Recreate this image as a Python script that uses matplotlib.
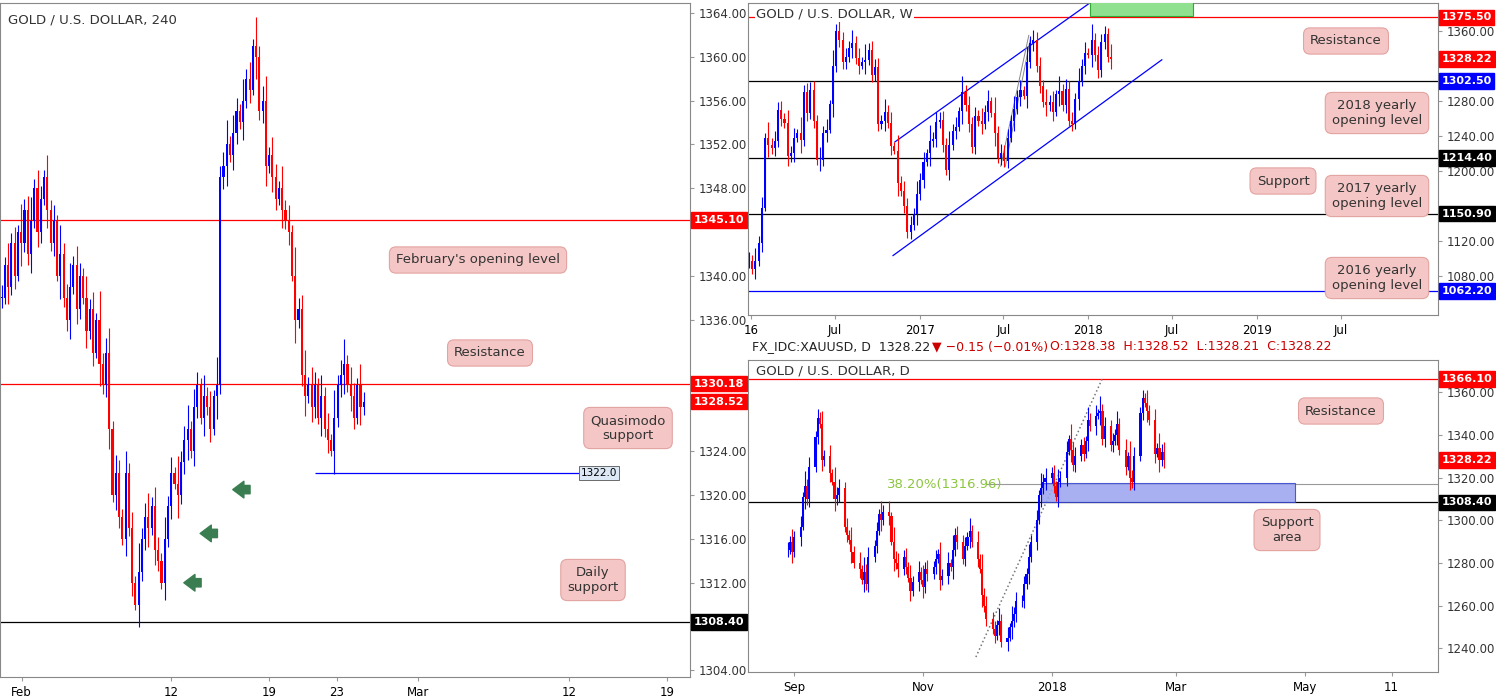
import matplotlib
matplotlib.use("Agg")
import matplotlib.pyplot as plt
import matplotlib.dates as mdates
import numpy as np
import pandas as pd
from matplotlib.patches import Rectangle

# ---------------- data ----------------
h4_close = [1338,1341,1339,1343,1340,1344,1343,1346,1342,1345,1348,1344,1347,1349,1346,1343,1345,1340,1342,1338,
            1336,1339,1341,1337,1340,1338,1335,1337,1333,1336,1332,1330,1333,1326,1320,1322,1318,1316,1322,1317,
            1312,1310,1313,1316,1318,1317,1319,1315,1314,1312,1316,1319,1322,1321,1320,1323,1325,1326,1324,1328,
            1330,1327,1329,1328,1326,1329,1330,1349,1350,1352,1351,1353,1355,1354,1356,1358,1357,1361,1360,1355,
            1356,1350,1351,1349,1347,1348,1346,1345,1344,1340,1336,1337,1331,1329,1330,1328,1330,1327,1329,1326,
            1325,1324,1327,1330,1331,1332,1330,1329,1327,1330,1328,1328.5]
h4_wick = [1.2,0.7,2.0,0.9,1.5,0.6,2.6,1.0,1.3,2.2,0.8,1.7]
h4_ticks = [6.1, 52, 82, 102.8, 127.5, 174, 204]
h4_ticklabels = ["Feb", "12", "19", "23", "Mar", "12", "19"]

w_close = [1097,1088,1097,1117,1158,1238,1230,1226,1234,1270,1259,1255,1217,1220,1237,1243,1235,1290,1266,1293,
           1257,1212,1212,1243,1247,1276,1320,1360,1350,1324,1330,1341,1346,1329,1320,1325,1327,1338,1310,1319,
           1253,1257,1267,1255,1228,1223,1186,1177,1160,1130,1138,1150,1173,1190,1210,1220,1234,1236,1256,1258,
           1230,1201,1230,1246,1250,1268,1290,1275,1253,1227,1263,1257,1254,1267,1280,1266,1243,1215,1220,1211,
           1238,1257,1271,1284,1292,1286,1324,1346,1350,1320,1297,1279,1275,1279,1267,1288,1291,1275,1294,1257,
           1253,1282,1303,1320,1335,1333,1350,1332,1315,1347,1356,1330,1328]
w_wick = [10,7,15,8,12,5,18,8,11,9]

d_close = [1286,1290,1285,1292,1297,1311,1316,1310,1325,1339,1348,1345,1328,1330,1322,1318,1310,1312,1315,1297,
           1293,1291,1285,1280,1277,1272,1276,1270,1283,1288,1295,1303,1300,1304,1302,1290,1282,1280,1277,1283,
           1278,1273,1267,1271,1276,1272,1269,1277,1275,1278,1282,1284,1272,1274,1280,1278,1286,1293,1290,1282,
           1288,1292,1295,1290,1282,1277,1265,1260,1254,1249,1246,1251,1253,1243,1245,1250,1253,1256,1262,1262,
           1270,1275,1283,1290,1300,1312,1315,1318,1320,1322,1316,1311,1318,1320,1332,1338,1333,1326,1330,1335,
           1331,1337,1347,1344,1349,1350,1351,1338,1344,1335,1337,1340,1345,1333,1325,1330,1320,1318,1330,1350,
           1357,1355,1351,1347,1331,1334,1328,1332,1328]
d_wick = [4,2.5,6,3,5,2,7,3.5,4.5,3]

UP, DN = "#0000ff", "#ff0000"
W, H = 1496, 698
fig = plt.figure(figsize=(W/100, H/100), dpi=100)
fig.patch.set_facecolor("white")

def ax_px(x0, y0, x1, y1):
    return fig.add_axes([x0/W, 1-y1/H, (x1-x0)/W, (y1-y0)/H])

def candles(ax, x, closes, wicks, width):
    closes = np.array(closes, float)
    opens = np.r_[closes[0], closes[:-1]]
    wk = np.resize(np.array(wicks, float), len(closes))
    for xi, o, c, w in zip(x, opens, closes, wk):
        col = UP if c >= o else DN
        ax.vlines(xi, min(o, c) - w*0.8, max(o, c) + w, color=col, lw=0.8, zorder=3)
        ax.add_patch(Rectangle((xi - width/2, min(o, c)), width, max(abs(c - o), 0.05),
                               color=col, lw=0, zorder=4))

def style(ax, yt, tags):
    ax.set_facecolor("white")
    ax.yaxis.tick_right()
    lo, hi = ax.get_ylim()
    thr = (hi - lo) * 0.03
    yt = [v for v in yt if all(abs(v - t) > thr for t, _, _ in tags)]
    ax.set_yticks(yt)
    ax.set_yticklabels([f"{v:.2f}" for v in yt], fontsize=8, color="#333")
    ax.tick_params(axis="both", length=3, color="#999", labelsize=8.5)
    for s in ax.spines.values():
        s.set_color("#888")
        s.set_linewidth(0.8)
    for y, text, fc in tags:
        ax.text(1.005, y, text, transform=ax.get_yaxis_transform(), fontsize=8, color="white",
                va="center", ha="left", fontweight="bold",
                bbox=dict(boxstyle="square,pad=0.25", fc=fc, ec=fc), zorder=10, clip_on=False)

def callout(x, y, text):
    fig.text(x/W, 1-y/H, text, fontsize=9.5, ha="center", va="center", color="#333",
             bbox=dict(boxstyle="round,pad=0.5", fc="#f4c7c6", ec="#e3a3a0", lw=0.8), zorder=20)

# ---------------- left panel (4h) ----------------
axL = ax_px(0, 3, 690, 677)
xi = np.arange(len(h4_close))
axL.set_xlim(-0.5, 211)
axL.set_ylim(1303.4, 1364.9)
candles(axL, xi, h4_close, h4_wick, 0.65)
style(axL, np.arange(1304, 1365, 4),
      [(1345.1, "1345.10", DN), (1330.18, "1330.18", DN), (1328.52, "1328.52", DN), (1308.4, "1308.40", "black")])
axL.set_xticks(h4_ticks)
axL.set_xticklabels(h4_ticklabels)
axL.axhline(1345.1, color=DN, lw=0.9)
axL.axhline(1330.18, color=DN, lw=0.9)
axL.axhline(1308.4, color="black", lw=0.9)
axL.hlines(1322.0, 96, 177, color=UP, lw=0.9)
axL.text(177.5, 1322.0, "1322.0", fontsize=7.5, va="center", ha="left",
         bbox=dict(boxstyle="square,pad=0.2", fc="#dce8f5", ec="#555", lw=0.6))
axL.text(0.012, 0.985, "GOLD / U.S. DOLLAR, 240", transform=axL.transAxes, fontsize=9.5,
         va="top", color="#333")
for ax_, ay in [(70, 1320.5), (60, 1316.5), (55, 1312)]:
    axL.annotate("", xy=(ax_, ay), xytext=(ax_ + 7, ay),
                 arrowprops=dict(arrowstyle="simple,head_width=1.2,head_length=0.8,tail_width=0.6",
                                 fc="#3a7d50", ec="#3a7d50"))
callout(478, 260, "February's opening level")
callout(490, 353, "Resistance")
callout(628, 428, "Quasimodo\nsupport")
callout(593, 580, "Daily\nsupport")

# ---------------- weekly panel ----------------
axW = ax_px(748, 3, 1438, 315)
wd = pd.date_range(end="2018-02-19", periods=len(w_close), freq="W-MON")
axW.set_xlim(mdates.datestr2num("2015-12-26"), mdates.datestr2num("2020-01-28"))
axW.set_ylim(1035, 1392)
candles(axW, mdates.date2num(wd), w_close, w_wick, 4.5)
style(axW, np.arange(1080, 1361, 40),
      [(1375.5, "1375.50", DN), (1328.22, "1328.22", DN), (1302.5, "1302.50", UP),
       (1214.4, "1214.40", "black"), (1150.9, "1150.90", "black"), (1062.2, "1062.20", UP)])
wt = ["2016-01-01", "2016-07-01", "2017-01-01", "2017-07-01", "2018-01-01", "2018-07-01", "2019-01-01", "2019-07-01"]
axW.set_xticks(mdates.datestr2num(wt))
axW.set_xticklabels(["16", "Jul", "2017", "Jul", "2018", "Jul", "2019", "Jul"])
axW.axhline(1375.5, color=DN, lw=0.9)
axW.axhline(1302.5, color="black", lw=0.9)
axW.axhline(1214.4, color="black", lw=0.9)
axW.axhline(1150.9, color="black", lw=0.9)
axW.axhline(1062.2, color=UP, lw=0.9)
axW.plot(mdates.datestr2num(["2016-11-08", "2018-01-04"]), [1233, 1392], color=UP, lw=0.9)
axW.plot(mdates.datestr2num(["2016-11-04", "2018-06-09"]), [1103, 1327], color=UP, lw=0.9)
axW.plot(mdates.datestr2num(["2017-06-25", "2017-08-25"]), [1205, 1355], color="#888", lw=0.7)
axW.plot(mdates.datestr2num(["2017-07-05", "2017-08-28"]), [1205, 1350], color="#888", lw=0.7)
x0 = mdates.datestr2num("2018-01-05"); x1 = mdates.datestr2num("2018-08-15")
axW.add_patch(Rectangle((x0, 1377), x1 - x0, 25, fc="#8fe08f", ec="#3a3", lw=0.8, zorder=5))
axW.text(0.012, 0.985, "GOLD / U.S. DOLLAR, W", transform=axW.transAxes, fontsize=9.5,
         va="top", color="#333", bbox=dict(fc="white", ec="none", pad=1), zorder=12)
callout(1346, 41, "Resistance")
callout(1377, 113, "2018 yearly\nopening level")
callout(1283, 181, "Support")
callout(1377, 196, "2017 yearly\nopening level")
callout(1377, 278, "2016 yearly\nopening level")

# ---------------- daily panel ----------------
axD = ax_px(748, 360, 1438, 672)
dd = pd.bdate_range(end="2018-02-23", periods=len(d_close))
axD.set_xlim(mdates.datestr2num("2017-08-10"), mdates.datestr2num("2018-07-03"))
axD.set_ylim(1229, 1375)
candles(axD, mdates.date2num(dd), d_close, d_wick, 1.0)
style(axD, np.arange(1240, 1361, 20),
      [(1366.1, "1366.10", DN), (1328.22, "1328.22", DN), (1308.4, "1308.40", "black")])
dt = ["2017-09-01", "2017-11-01", "2018-01-01", "2018-03-01", "2018-05-01", "2018-06-11"]
axD.set_xticks(mdates.datestr2num(dt))
axD.set_xticklabels(["Sep", "Nov", "2018", "Mar", "May", "11"])
axD.axhline(1366.1, color=DN, lw=0.9)
axD.axhline(1308.4, color="black", lw=0.9)
axD.hlines(1316.96, mdates.datestr2num("2017-12-01"), mdates.datestr2num("2018-07-03"), color="#999", lw=0.8)
axD.text(mdates.datestr2num("2017-10-15"), 1316.96, "38.20%(1316.96)", color="#8cc63f",
         fontsize=9.5, va="center")
axD.plot(mdates.datestr2num(["2017-11-26", "2018-01-25"]), [1236, 1366.5], color="#777", lw=1.1, ls=":")
r0 = mdates.datestr2num("2017-12-27"); r1 = mdates.datestr2num("2018-04-26")
axD.add_patch(Rectangle((r0, 1308.6), r1 - r0, 8.9, fc="#9aa3f0", ec="#3344cc", lw=0.8, alpha=0.85, zorder=2))
axD.text(0.012, 0.985, "GOLD / U.S. DOLLAR, D", transform=axD.transAxes, fontsize=9.5,
         va="top", color="#333")
callout(1341, 411, "Resistance")
callout(1287, 530, "Support\narea")

fig.text(752/W, 1-347/H, "FX_IDC:XAUUSD, D  1328.22", fontsize=9, va="center", color="#222")
fig.text(932/W, 1-347/H, "\u25bc \u22120.15 (\u22120.01%)", fontsize=9, va="center", color="#c00")
fig.text(1050/W, 1-347/H, "O:1328.38  H:1328.52  L:1328.21  C:1328.22", fontsize=9, va="center", color="#c00")

fig.savefig("out.png", dpi=100, facecolor="white")
